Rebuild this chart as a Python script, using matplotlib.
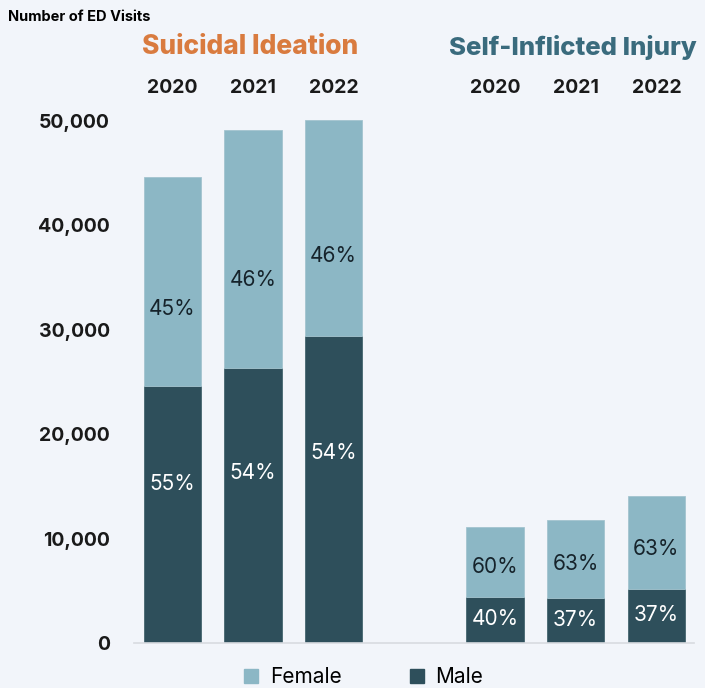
import numpy as np
import matplotlib.pyplot as plt
from matplotlib.lines import Line2D

plt.rcParams['font.family'] = ['Inter', 'DejaVu Sans']

years = ['2020', '2021', '2022']
groups = ['Suicidal Ideation', 'Self-Inflicted Injury']
# ED visits
si_total = [44600, 49100, 50100]
si_male = [24600, 26300, 29400]
sii_total = [11100, 11800, 14100]
sii_male = [4400, 4300, 5200]
si_female_pct = ['45%', '46%', '46%']
si_male_pct = ['55%', '54%', '54%']
sii_female_pct = ['60%', '63%', '63%']
sii_male_pct = ['40%', '37%', '37%']

bg = '#f2f5fa'
c_f = '#8cb7c5'
c_m = '#2e4f5b'

fig = plt.figure(figsize=(7.05, 6.88), dpi=100, facecolor=bg)
ax = fig.add_axes([0.1894, 0.0654, 0.7943, 0.7663])
ax.set_facecolor(bg)

xs_si = np.arange(3)
xs_sii = np.arange(3) + 4
w = 0.71

def draw(xs, total, male, fpct, mpct, ffrac, mfrac):
    total = np.array(total)
    male = np.array(male)
    female = total - male
    ax.bar(xs, male, w, color=c_m, edgecolor='#46666f', linewidth=0.6)
    ax.bar(xs, female, w, bottom=male, color=c_f, edgecolor='#a3c4cf', linewidth=0.6)
    for i in range(3):
        ax.text(xs[i], male[i] * mfrac, mpct[i], ha='center', va='center',
                color='white', fontsize=15)
        ax.text(xs[i], male[i] + female[i] * ffrac, fpct[i], ha='center', va='center',
                color='#16232b', fontsize=15)

draw(xs_si, si_total, si_male, si_female_pct, si_male_pct, 0.37, 0.62)
draw(xs_sii, sii_total, sii_male, sii_female_pct, sii_male_pct, 0.43, 0.52)

ax.set_xlim(-0.48, 6.46)
ax.set_ylim(0, 50500)
ax.set_yticks(np.arange(0, 50001, 10000))
ax.set_yticklabels(['0', '10,000', '20,000', '30,000', '40,000', '50,000'],
                   fontsize=14, fontweight='bold', color='#1a1a1a')
ax.set_xticks([])
ax.tick_params(axis='y', length=0, pad=17)
for s in ['top', 'right', 'left']:
    ax.spines[s].set_visible(False)
ax.spines['bottom'].set_color('#d8dbe0')
ax.spines['bottom'].set_linewidth(1.2)

trans = ax.get_xaxis_transform()
for xs in [xs_si, xs_sii]:
    for i, yr in enumerate(years):
        ax.text(xs[i], 1.053, yr, transform=trans, ha='center', va='center',
                fontsize=14, fontweight='bold', color='#1a1a1a')

ax.text(0.96, 1.13, groups[0], transform=trans, ha='center', va='center',
        fontsize=19, fontweight='heavy', color='#d97b3f')
ax.text(4.97, 1.13, groups[1], transform=trans, ha='center', va='center',
        fontsize=18.5, fontweight='heavy', color='#3a6b7d')

fig.text(0.011, 0.976, 'Number of ED Visits', ha='left', va='center',
         fontsize=10.5, fontweight='bold', color='black')

handles = [Line2D([], [], marker='s', ls='', color=c_f, markersize=10),
           Line2D([], [], marker='s', ls='', color=c_m, markersize=10)]
fig.legend(handles, ['Female', 'Male'], loc='center', bbox_to_anchor=(0.515, 0.016),
           ncol=2, frameon=False, fontsize=15, handlelength=0.8,
           handletextpad=0.5, columnspacing=3.2, borderpad=0)

fig.savefig('out.png', dpi=100, facecolor=bg)
